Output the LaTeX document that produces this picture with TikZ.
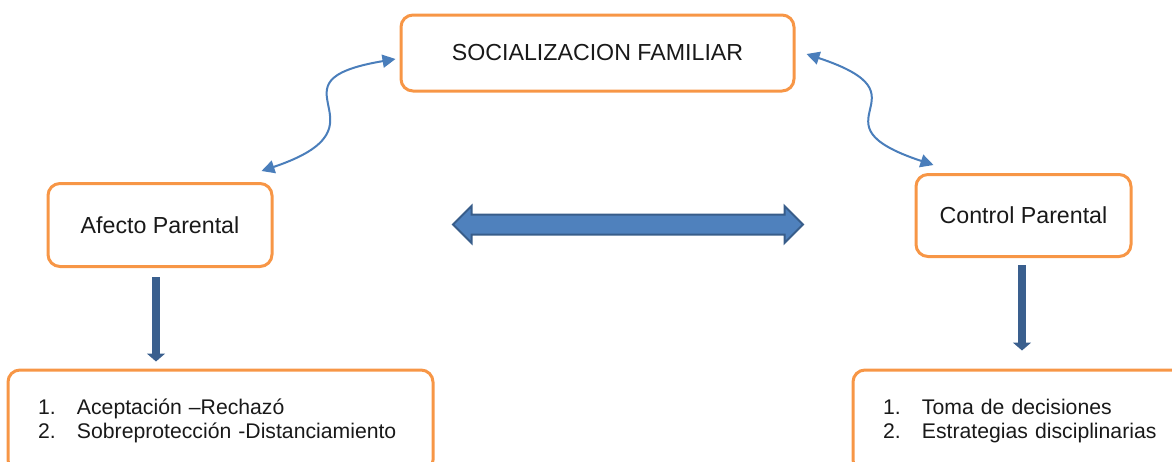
\documentclass[tikz,border=0pt]{standalone}
\usepackage{fontspec}
\setmainfont{Liberation Sans}
\usetikzlibrary{arrows.meta,shapes.arrows}

\definecolor{naranja}{HTML}{F79646}
\definecolor{azul}{HTML}{4A7EBB}
\definecolor{azulbloque}{HTML}{4F81BD}
\definecolor{azulborde}{HTML}{385D8A}
\definecolor{azuloscuro}{HTML}{3A5F8E}

\begin{document}
\begin{tikzpicture}[x=0.5pt,y=-0.5pt,
		caja/.style={draw=naranja,line width=1.5pt,rounded corners=6pt,
			text=black!90,font=\fontsize{11.6}{12.6}\selectfont,inner sep=0pt},
		listado/.style={caja,align=left,inner xsep=15pt,text width=#1,minimum height=51pt,
			font=\fontsize{10.6}{12}\selectfont},
		enlace/.style={azul,line width=1pt,{Triangle[length=6.5pt,width=6.5pt]}-{Triangle[length=6.5pt,width=6.5pt]}},
		bajada/.style={azuloscuro,line width=4pt,-{Triangle[width=9pt,length=4pt]}}]
		% marco
		\useasboundingbox (0,0) rectangle (1172,461);
		\clip (0,0) rectangle (1172,461);
		
		% cajas
		\node[caja,minimum width=196.5pt,minimum height=38pt] (socfam) at (597.5,53) {SOCIALIZACION FAMILIAR};
		\node[caja,minimum width=112pt,minimum height=41.5pt] (afecto) at (160,225) {Afecto Parental};
		\node[caja,minimum width=107.5pt,minimum height=41pt] (control) at (1023.5,215.5) {Control Parental};
		
		\node[listado=182.5pt] (aceptacion) at (220.5,421)
		{\makebox[19.5pt][l]{1.}Aceptación –Rechazó\\
			\makebox[19.5pt][l]{2.}Sobreprotección -Distanciamiento};
		\node[listado=138.5pt] (toma) at (1021.5,421)
		{\makebox[19.5pt][l]{1.}Toma de decisiones\\
			\makebox[19.5pt][l]{2.}Estrategias disciplinarias};
		
		% flecha doble
		\node[double arrow,double arrow head extend=4.25pt,minimum height=175pt,
		inner xsep=0pt,inner ysep=4.5pt,fill=azulbloque,draw=azulborde,
		line width=1pt] (vinculo) at (628,224.5) {};
		
		% enlaces curvos
		\draw[enlace] ([xshift=-6pt,yshift=5.5pt]afecto.north east)
		.. controls +(137,-46) and +(-137,23) .. ([xshift=-2pt,yshift=-3pt]socfam.west);
		\draw[enlace] ([xshift=5.5pt,yshift=-0.5pt]socfam.east)
		.. controls +(130,43) and +(-130,-43) .. ([xshift=9.5pt,yshift=4pt]control.north west);
		
		% bajadas
		\draw[bajada,shorten <=4.5pt,shorten >=3.5pt] ([xshift=-2pt]afecto.south)
		-- ([xshift=-2pt]afecto.south |- aceptacion.north);
		\draw[bajada,shorten <=3.5pt,shorten >=9pt] ([xshift=-0.75pt]control.south)
		-- ([xshift=-0.75pt]control.south |- toma.north);
	\end{tikzpicture}
\end{document}
